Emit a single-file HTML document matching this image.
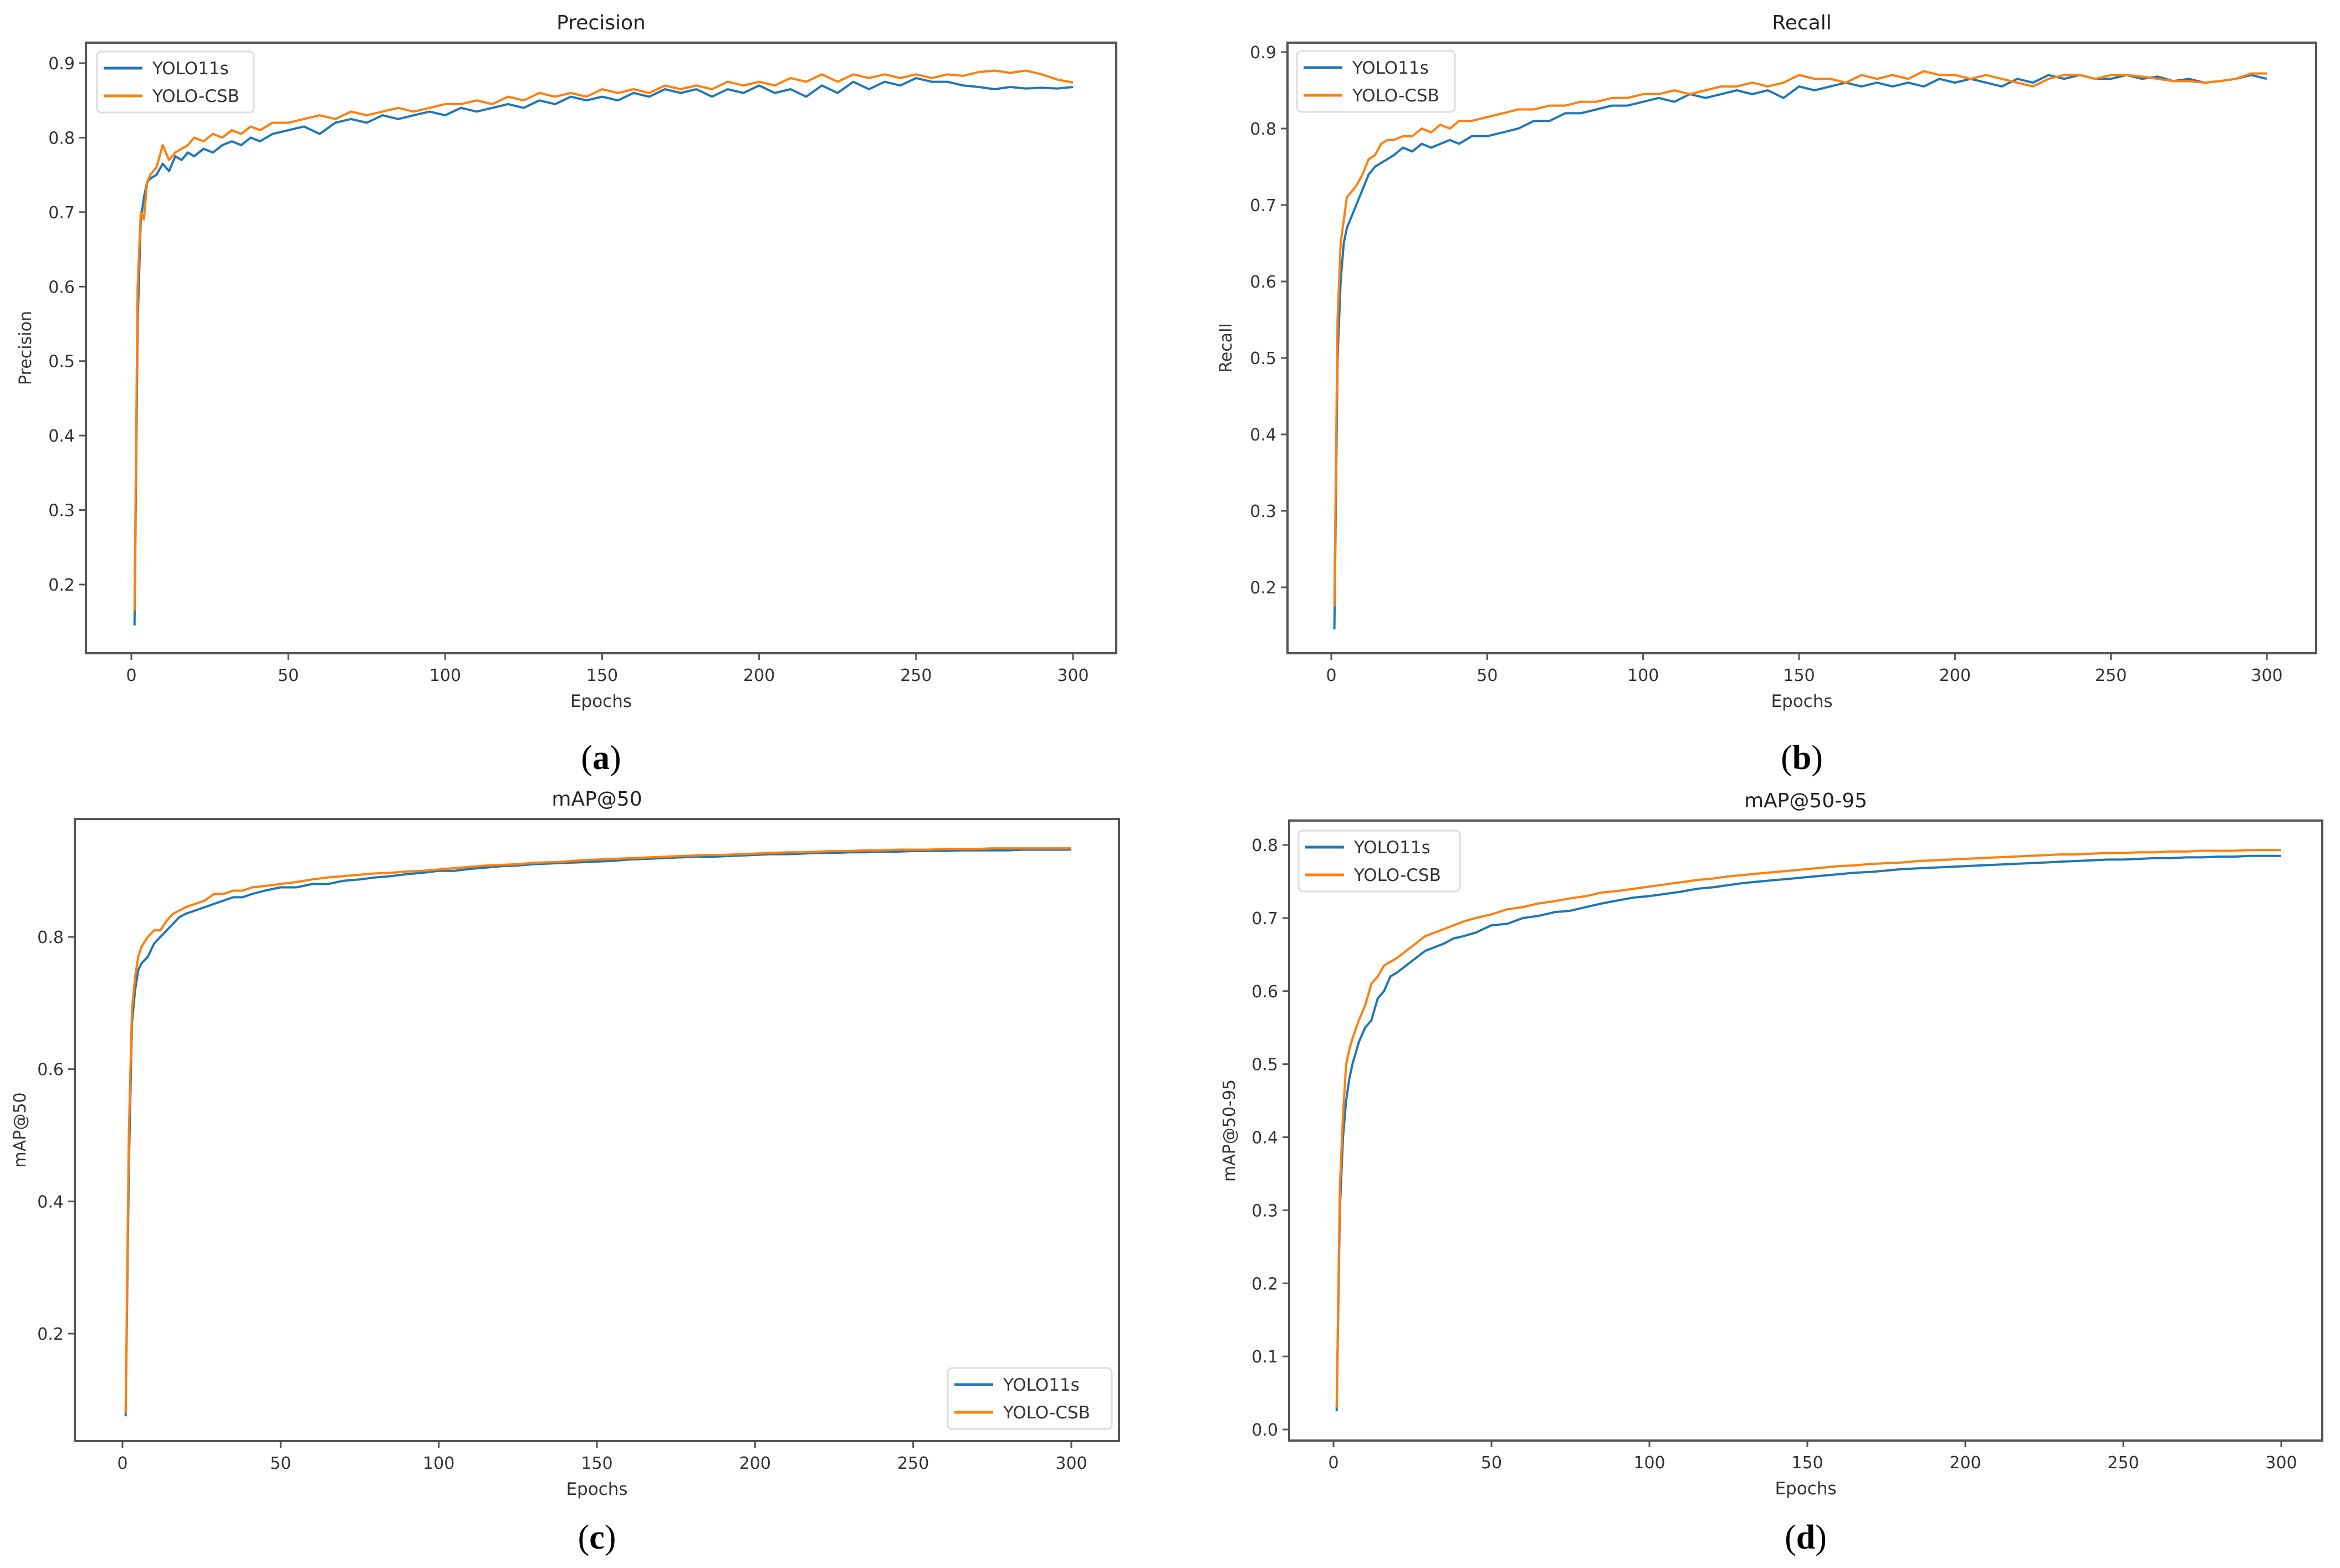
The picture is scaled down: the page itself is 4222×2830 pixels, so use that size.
<!DOCTYPE html>
<html><head><meta charset="utf-8">
<style>
html,body{margin:0;padding:0;background:#fff;}
svg{display:block;font-family:"DejaVu Sans","Liberation Sans",sans-serif;}
</style></head>
<body>
<svg id="fig" width="4222" height="2830" viewBox="0 0 4222 2830" xmlns="http://www.w3.org/2000/svg"></svg>
<script>
const epochs=[1,2,3,4,5,6,8,10,12,14,16,18,20,23,26,29,32,35,38,41,45,50,55,60,65,70,75,80,85,90,95,100,105,110,115,120,125,130,135,140,145,150,155,160,165,170,175,180,185,190,195,200,205,210,215,220,225,230,235,240,245,250,255,260,265,270,275,280,285,290,295,300];
const xTicks=[0,50,100,150,200,250,300];
const seriesNames=["YOLO11s","YOLO-CSB"];
const precBlue=[.145,.55,.69,.72,.74,.745,.75,.765,.755,.775,.77,.78,.775,.785,.78,.79,.795,.79,.80,.795,.805,.81,.815,.805,.82,.825,.82,.83,.825,.83,.835,.83,.84,.835,.84,.845,.84,.85,.845,.855,.85,.855,.85,.86,.855,.865,.86,.865,.855,.865,.86,.87,.86,.865,.855,.87,.86,.875,.865,.875,.87,.88,.875,.875,.87,.868,.865,.868,.866,.867,.866,.868];
const precOrange=[.165,.6,.70,.69,.74,.75,.76,.79,.77,.78,.785,.79,.80,.795,.805,.80,.81,.805,.815,.81,.82,.82,.825,.83,.825,.835,.83,.835,.84,.835,.84,.845,.845,.85,.845,.855,.85,.86,.855,.86,.855,.865,.86,.865,.86,.87,.865,.87,.865,.875,.87,.875,.87,.88,.875,.885,.875,.885,.88,.885,.88,.885,.88,.885,.883,.888,.89,.887,.89,.885,.878,.874];
const recBlue=[.145,.5,.6,.65,.67,.68,.70,.72,.74,.75,.755,.76,.765,.775,.77,.78,.775,.78,.785,.78,.79,.79,.795,.80,.81,.81,.82,.82,.825,.83,.83,.835,.84,.835,.845,.84,.845,.85,.845,.85,.84,.855,.85,.855,.86,.855,.86,.855,.86,.855,.865,.86,.865,.86,.855,.865,.86,.87,.865,.87,.865,.865,.87,.865,.868,.862,.865,.86,.862,.865,.87,.865];
const recOrange=[.175,.55,.65,.68,.71,.715,.725,.74,.76,.765,.78,.785,.785,.79,.79,.80,.795,.805,.80,.81,.81,.815,.82,.825,.825,.83,.83,.835,.835,.84,.84,.845,.845,.85,.845,.85,.855,.855,.86,.855,.86,.87,.865,.865,.86,.87,.865,.87,.865,.875,.87,.87,.865,.87,.865,.86,.855,.865,.87,.87,.865,.87,.87,.868,.865,.862,.862,.86,.862,.865,.872,.872];
const m50Blue=[.075,.45,.67,.72,.75,.76,.77,.79,.80,.81,.82,.83,.835,.84,.845,.85,.855,.86,.86,.865,.87,.875,.875,.88,.88,.885,.887,.89,.892,.895,.897,.90,.90,.903,.905,.907,.908,.91,.911,.912,.913,.914,.915,.917,.918,.919,.92,.921,.921,.922,.923,.924,.925,.925,.926,.927,.927,.928,.928,.929,.929,.93,.93,.93,.931,.931,.931,.931,.932,.932,.932,.932];
const m50Orange=[.08,.5,.69,.74,.77,.785,.80,.81,.81,.825,.835,.84,.845,.85,.855,.865,.865,.87,.87,.875,.877,.88,.883,.887,.89,.892,.894,.896,.897,.899,.90,.902,.904,.906,.908,.909,.91,.912,.913,.914,.916,.917,.918,.919,.92,.921,.922,.923,.924,.924,.925,.926,.927,.928,.928,.929,.93,.93,.931,.931,.932,.932,.932,.933,.933,.933,.934,.934,.934,.934,.934,.934];
const m5095Blue=[.025,.3,.4,.45,.48,.50,.53,.55,.56,.59,.60,.62,.625,.635,.645,.655,.66,.665,.672,.675,.68,.69,.692,.70,.703,.708,.71,.715,.72,.724,.728,.73,.733,.736,.74,.742,.745,.748,.75,.752,.754,.756,.758,.76,.762,.763,.765,.767,.768,.769,.77,.771,.772,.773,.774,.775,.776,.777,.778,.779,.78,.78,.781,.782,.782,.783,.783,.784,.784,.785,.785,.785];
const m5095Orange=[.03,.33,.43,.50,.52,.535,.56,.58,.61,.62,.635,.64,.645,.655,.665,.675,.68,.685,.69,.695,.70,.705,.712,.715,.72,.723,.727,.73,.735,.737,.74,.743,.746,.749,.752,.754,.757,.759,.761,.763,.765,.767,.769,.771,.772,.774,.775,.776,.778,.779,.78,.781,.782,.783,.784,.785,.786,.787,.787,.788,.789,.789,.79,.79,.791,.791,.792,.792,.792,.793,.793,.793];
const yTicksA=[0.2,0.3,0.4,0.5,0.6,0.7,0.8,0.9];
const yTicksC=[0.2,0.4,0.6,0.8];
const yTicksD=[0.0,0.1,0.2,0.3,0.4,0.5,0.6,0.7,0.8];

const NS="http://www.w3.org/2000/svg";
const svg=document.getElementById('fig');
function mk(tag,attrs,parent){const e=document.createElementNS(NS,tag);for(const k in attrs)e.setAttribute(k,attrs[k]);(parent||svg).appendChild(e);return e;}
const COLORS=["#1f77b4","#ff7f0e"];

function panel(p){
  const g=mk('g',{});
  
  
  const xs=v=>p.x0px+(v-0)/(300-0)*(p.x300px-p.x0px);
  const ys=v=>p.yAt0px+(v-p.yRef0)/(p.yRef1-p.yRef0)*(p.yAt1px-p.yAt0px);
  // lines
  p.series.forEach((s,i)=>{
    let d='';
    epochs.forEach((e,j)=>{d+=(j?'L':'M')+xs(e).toFixed(1)+' '+ys(s[j]).toFixed(1);});
    const path=mk('path',{d:d,fill:'none',stroke:COLORS[i],'stroke-width':4,'stroke-linejoin':'round'},g);
    
    
  });
  // frame
  const fr=mk('rect',{x:p.left,y:p.top,width:p.right-p.left,height:p.bottom-p.top,fill:'none',stroke:'#555','stroke-width':4},g);
  
  
  // x ticks
  xTicks.forEach(t=>{
    const x=xs(t);
    mk('line',{x1:x,x2:x,y1:p.bottom,y2:p.bottom+12,stroke:'#555','stroke-width':3},g);
    const tx=mk('text',{x:x,y:p.bottom+50,'text-anchor':'middle','font-size':30,fill:'#333'},g);
    tx.textContent=t;
    
    
  });
  p.yTicks.forEach(t=>{
    const y=ys(t);
    mk('line',{x1:p.left-12,x2:p.left,y1:y,y2:y,stroke:'#555','stroke-width':3},g);
    const tx=mk('text',{x:p.left-20,y:y+11,'text-anchor':'end','font-size':30,fill:'#333'},g);
    tx.textContent=t.toFixed(1);
    
    
  });
  const cx=(p.left+p.right)/2;
  const ti=mk('text',{x:cx,y:p.top-24,'text-anchor':'middle','font-size':36,fill:'#222'},g);
  ti.textContent=p.title;
  
  
  const xl=mk('text',{x:cx,y:p.bottom+97,'text-anchor':'middle','font-size':31,fill:'#333'},g);
  xl.textContent='Epochs';
  
  
  const my=(p.top+p.bottom)/2;
  const yl=mk('text',{x:p.ylabX,y:my,'text-anchor':'middle','font-size':30,fill:'#333',transform:'rotate(-90 '+p.ylabX+' '+my+')'},g);
  yl.textContent=p.ytitle;
  
  
  // legend
  const L=p.legend;
  const lg=mk('g',{},g);
  
  
  mk('rect',{x:L.x,y:L.y,width:L.w,height:L.h,rx:8,fill:'#fff',stroke:'#ddd','stroke-width':3},lg);
  seriesNames.forEach((n,i)=>{
    const yy=L.y+30+i*50;
    mk('line',{x1:L.x+12,x2:L.x+82,y1:yy,y2:yy,stroke:COLORS[i],'stroke-width':5},lg);
    const t=mk('text',{x:L.x+100,y:yy+11,'font-size':31,fill:'#333'},lg);
    t.textContent=n;
    
    
  });
  const cap=mk('text',{x:cx,y:p.capY,'text-anchor':'middle','font-size':62,fill:'#000','font-family':'"Liberation Serif",serif'},g);
  cap.innerHTML='(<tspan font-weight="bold">'+p.cap+'</tspan>)';
  
  
}

panel({name:'precision-panel',title:'Precision',ytitle:'Precision',cap:'a',series:[precBlue,precOrange],
  left:155,right:2014,top:77,bottom:1179,x0px:237,x300px:1936,yRef0:0.2,yRef1:0.9,yAt0px:1055,yAt1px:114,
  yTicks:yTicksA,ylabX:56,capY:1388,legend:{x:175,y:93,w:283,h:110}});
panel({name:'recall-panel',title:'Recall',ytitle:'Recall',cap:'b',series:[recBlue,recOrange],
  left:2323,right:4179,top:77,bottom:1179,x0px:2402,x300px:4090,yRef0:0.2,yRef1:0.9,yAt0px:1060,yAt1px:94,
  yTicks:yTicksA,ylabX:2222,capY:1388,legend:{x:2340,y:92,w:285,h:110}});
panel({name:'map50-panel',title:'mAP@50',ytitle:'mAP@50',cap:'c',series:[m50Blue,m50Orange],
  left:135,right:2019,top:1478,bottom:2601,x0px:221,x300px:1933,yRef0:0.2,yRef1:0.8,yAt0px:2407,yAt1px:1691,
  yTicks:yTicksC,ylabX:46,capY:2795,legend:{x:1710,y:2469,w:296,h:110}});
panel({name:'map50-95-panel',title:'mAP@50-95',ytitle:'mAP@50-95',cap:'d',series:[m5095Blue,m5095Orange],
  left:2326,right:4190,top:1481,bottom:2600,x0px:2406,x300px:4116,yRef0:0.0,yRef1:0.8,yAt0px:2580,yAt1px:1525,
  yTicks:yTicksD,ylabX:2228,capY:2795,legend:{x:2343,y:1499,w:291,h:110}});
</script>
</body></html>
